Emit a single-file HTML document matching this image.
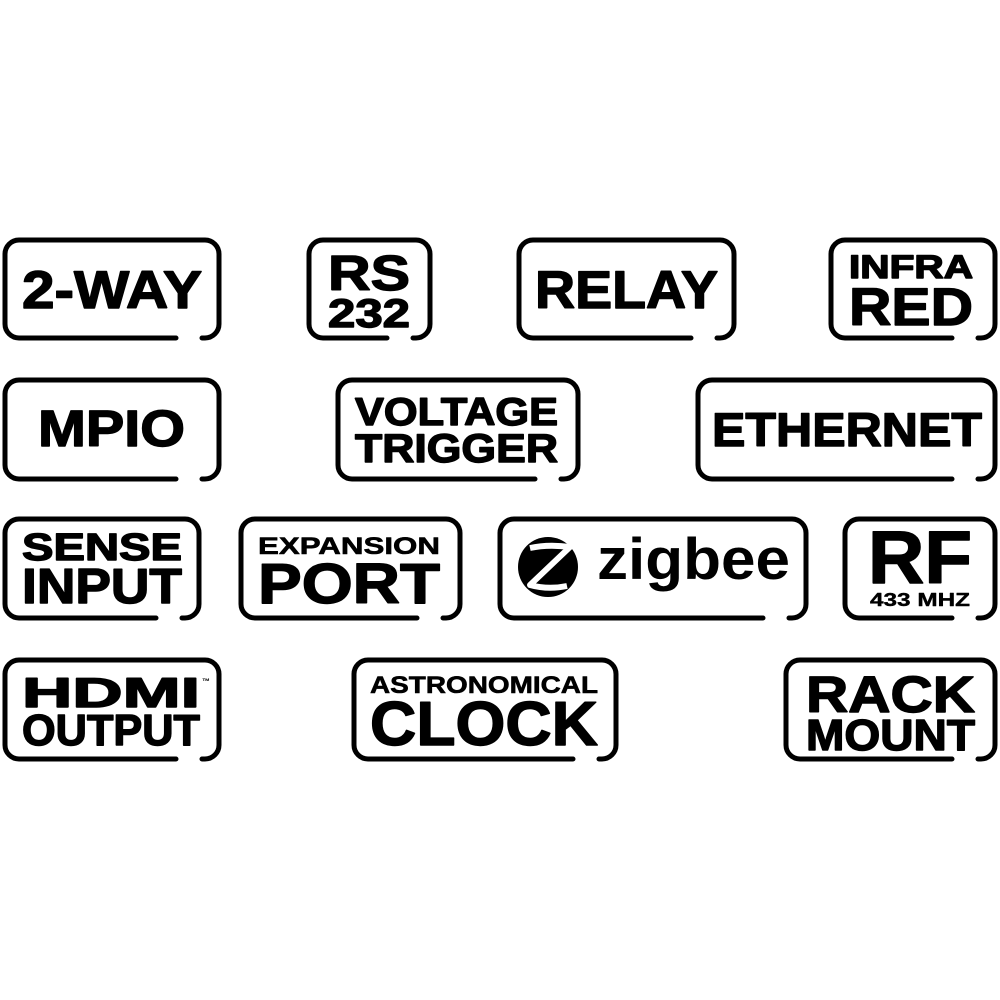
<!DOCTYPE html>
<html><head><meta charset="utf-8"><style>html,body{margin:0;padding:0;background:#fff}svg{display:block}</style></head>
<body>
<svg width="1000" height="1000" viewBox="0 0 1000 1000" xmlns="http://www.w3.org/2000/svg">
<g fill="none" stroke="#000" stroke-width="5" stroke-linecap="round">
<path d="M176 338 H19 A14 14 0 0 1 5 324 V254 A14 14 0 0 1 19 240 H205 A14 14 0 0 1 219 254 V324 A14 14 0 0 1 205 338 H202"/>
<path d="M387 338 H323 A14 14 0 0 1 309 324 V254 A14 14 0 0 1 323 240 H416 A14 14 0 0 1 430 254 V324 A14 14 0 0 1 416 338 H413"/>
<path d="M691 338 H533 A14 14 0 0 1 519 324 V254 A14 14 0 0 1 533 240 H720 A14 14 0 0 1 734 254 V324 A14 14 0 0 1 720 338 H717"/>
<path d="M952 338 H845 A14 14 0 0 1 831 324 V254 A14 14 0 0 1 845 240 H981 A14 14 0 0 1 995 254 V324 A14 14 0 0 1 981 338 H978"/>
<path d="M176 479 H19 A14 14 0 0 1 5 465 V394 A14 14 0 0 1 19 380 H205 A14 14 0 0 1 219 394 V465 A14 14 0 0 1 205 479 H202"/>
<path d="M535 479 H352 A14 14 0 0 1 338 465 V394 A14 14 0 0 1 352 380 H564 A14 14 0 0 1 578 394 V465 A14 14 0 0 1 564 479 H561"/>
<path d="M952 479 H712 A14 14 0 0 1 698 465 V394 A14 14 0 0 1 712 380 H981 A14 14 0 0 1 995 394 V465 A14 14 0 0 1 981 479 H978"/>
<path d="M156 618 H19 A14 14 0 0 1 5 604 V533 A14 14 0 0 1 19 519 H185 A14 14 0 0 1 199 533 V604 A14 14 0 0 1 185 618 H182"/>
<path d="M417 618 H255 A14 14 0 0 1 241 604 V533 A14 14 0 0 1 255 519 H446 A14 14 0 0 1 460 533 V604 A14 14 0 0 1 446 618 H443"/>
<path d="M763 618 H514 A14 14 0 0 1 500 604 V533 A14 14 0 0 1 514 519 H792 A14 14 0 0 1 806 533 V604 A14 14 0 0 1 792 618 H789"/>
<path d="M952 618 H859 A14 14 0 0 1 845 604 V533 A14 14 0 0 1 859 519 H981 A14 14 0 0 1 995 533 V604 A14 14 0 0 1 981 618 H978"/>
<path d="M176 759 H19 A14 14 0 0 1 5 745 V674 A14 14 0 0 1 19 660 H205 A14 14 0 0 1 219 674 V745 A14 14 0 0 1 205 759 H202"/>
<path d="M573 759 H368 A14 14 0 0 1 354 745 V674 A14 14 0 0 1 368 660 H602 A14 14 0 0 1 616 674 V745 A14 14 0 0 1 602 759 H599"/>
<path d="M952 759 H800 A14 14 0 0 1 786 745 V674 A14 14 0 0 1 800 660 H981 A14 14 0 0 1 995 674 V745 A14 14 0 0 1 981 759 H978"/>
</g>
<g font-family="Liberation Sans, sans-serif" font-weight="bold" fill="#000" stroke="#000" stroke-width="1.4" stroke-linejoin="round">
<text x="22" y="308" font-size="53" textLength="180" lengthAdjust="spacingAndGlyphs">2-WAY</text>
<text x="328" y="290" font-size="49" textLength="82" lengthAdjust="spacingAndGlyphs">RS</text>
<text x="328" y="327" font-size="40" textLength="82" lengthAdjust="spacingAndGlyphs">232</text>
<text x="535" y="308" font-size="53" textLength="183" lengthAdjust="spacingAndGlyphs">RELAY</text>
<text x="849" y="278" font-size="32" textLength="124" lengthAdjust="spacingAndGlyphs">INFRA</text>
<text x="849" y="325" font-size="53" textLength="124" lengthAdjust="spacingAndGlyphs">RED</text>
<text x="38" y="446" font-size="51" textLength="147" lengthAdjust="spacingAndGlyphs">MPIO</text>
<text x="355" y="425" font-size="39" textLength="203" lengthAdjust="spacingAndGlyphs">VOLTAGE</text>
<text x="355" y="462" font-size="40" textLength="203" lengthAdjust="spacingAndGlyphs">TRIGGER</text>
<text x="712" y="446" font-size="47" textLength="270" lengthAdjust="spacingAndGlyphs">ETHERNET</text>
<text x="22" y="560" font-size="38" textLength="160" lengthAdjust="spacingAndGlyphs">SENSE</text>
<text x="22" y="603" font-size="49" textLength="160" lengthAdjust="spacingAndGlyphs">INPUT</text>
<text x="258" y="554" font-size="24" textLength="182" lengthAdjust="spacingAndGlyphs" stroke-width="0.6">EXPANSION</text>
<text x="258" y="603" font-size="57" textLength="182" lengthAdjust="spacingAndGlyphs">PORT</text>
<text x="868" y="583" font-size="74" textLength="104" lengthAdjust="spacingAndGlyphs">RF</text>
<text x="870" y="606" font-size="18" textLength="100" lengthAdjust="spacingAndGlyphs" stroke-width="0.4">433 MHZ</text>
<text x="22" y="707" font-size="42" textLength="178" lengthAdjust="spacingAndGlyphs">HDMI</text>
<text x="202" y="684" font-size="8" stroke-width="0">™</text>
<text x="22" y="745" font-size="44" textLength="178" lengthAdjust="spacingAndGlyphs">OUTPUT</text>
<text x="370" y="693" font-size="24" textLength="228" lengthAdjust="spacingAndGlyphs" stroke-width="0.6">ASTRONOMICAL</text>
<text x="370" y="745" font-size="62" textLength="228" lengthAdjust="spacingAndGlyphs">CLOCK</text>
<text x="806" y="712" font-size="51" textLength="169" lengthAdjust="spacingAndGlyphs">RACK</text>
<text x="806" y="750" font-size="44" textLength="169" lengthAdjust="spacingAndGlyphs">MOUNT</text>
</g>
<text x="597" y="579" font-family="Liberation Sans, sans-serif" font-weight="bold" font-size="58" textLength="193" lengthAdjust="spacingAndGlyphs" fill="#000">zigbee</text>
<circle cx="548" cy="567" r="30" fill="#000"/>
<path d="M530 548 Q548 544 570 547 L530 585 Q548 590 567 586" fill="none" stroke="#fff" stroke-width="6" stroke-linejoin="round"/>
</svg>
</body></html>
